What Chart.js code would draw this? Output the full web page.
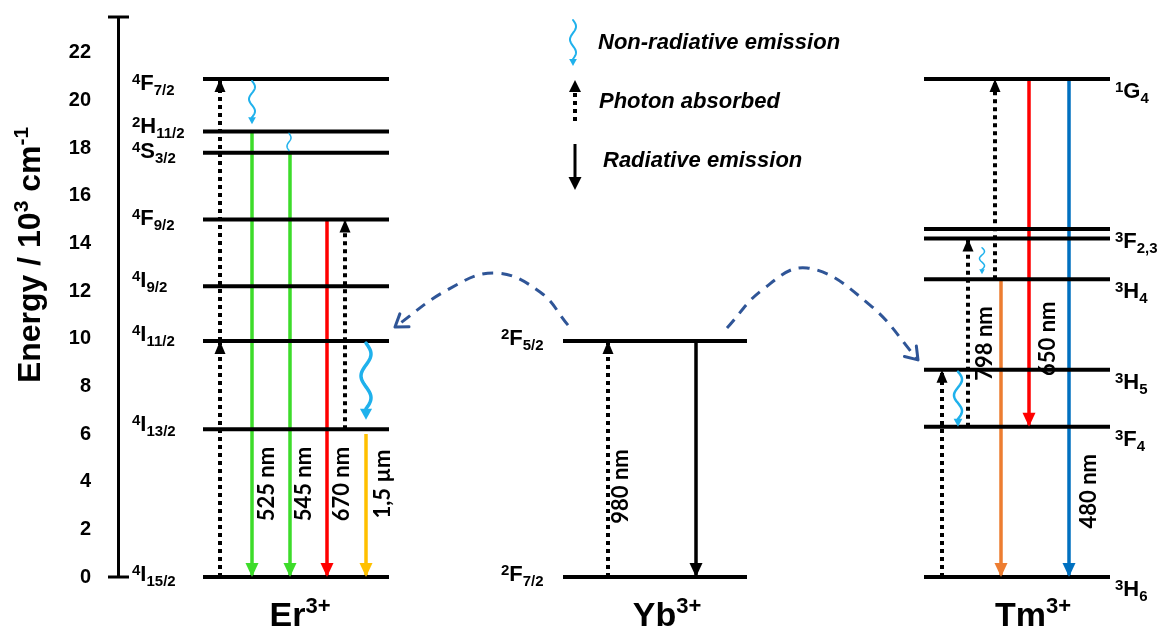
<!DOCTYPE html>
<html>
<head>
<meta charset="utf-8">
<script src="https://cdn.jsdelivr.net/npm/chart.js@4.4.1/dist/chart.umd.min.js"></script>
<style>
  html, body { margin: 0; padding: 0; background: #fff; }
  #wrap { width: 1164px; height: 627px; }
</style>
</head>
<body>
<div id="wrap"><canvas id="levelChart"></canvas></div>
<script>
// Energy levels, 10^3 cm^-1
const yTicks = [0, 2, 4, 6, 8, 10, 12, 14, 16, 18, 20, 22];
const ions = ['Er', 'Yb', 'Tm'];
const erLevels = ['4F7/2', '2H11/2', '4S3/2', '4F9/2', '4I9/2', '4I11/2', '4I13/2', '4I15/2'];
const erEnergy = [20.9, 18.7, 17.8, 15.0, 12.2, 9.9, 6.2, 0];
const ybLevels = ['2F5/2', '2F7/2'];
const ybEnergy = [9.9, 0];
const tmLevels = ['1G4', '3F2,3', '', '3H4', '3H5', '3F4', '3H6'];
const tmEnergy = [20.9, 14.6, 14.2, 12.5, 8.7, 6.3, 0];

// transitions [from, to]
const erAbsorbed = [[0, 9.9], [9.9, 20.9], [6.2, 15.0]];
const erEmitted = [[18.7, 0], [17.8, 0], [15.0, 0], [6.0, 0]];
const erEmittedLabels = ['525 nm', '545 nm', '670 nm', '1,5 µm'];
const erNonRad = [[20.9, 19.0], [18.7, 17.9], [9.9, 6.6]];
const ybAbsorbed = [[0, 9.9]];
const ybAbsorbedLabels = ['980 nm'];
const ybEmitted = [[9.9, 0]];
const tmAbsorbed = [[0, 8.7], [6.3, 14.2], [12.5, 20.9]];
const tmEmitted = [[12.5, 0], [20.9, 6.3], [20.9, 0]];
const tmEmittedLabels = ['798 nm', '650 nm', '480 nm'];
const tmNonRad = [[8.7, 6.3], [13.9, 12.7]];

// energy transfer Yb -> Er and Yb -> Tm (dashed curves)
const transferToEr = [10.57, 11.96, 12.76, 12.04, 10.49];
const transferToTm = [10.45, 12.04, 12.97, 11.41, 9.11];

// horizontal layout of the schematic (x axis runs in canvas pixels)
const layout = {
  erSpan: [203, 389], ybSpan: [563, 747], tmSpan: [924, 1110],
  erLabelX: 132, ybLabelX: 501, tmLabelX: 1115,
  erLabelDy: [3, -6, -3, -3, -7, -8, -6, -4], ybLabelDy: -4, tmLabelDy: 11,
  erAbsorbedX: [220, 220, 345], erEmittedX: [252, 290, 327, 366], erNonRadX: [252, 289, 366],
  erTextX: [267, 304, 342, 383], erTextY: [3.9, 3.9, 3.9, 3.9],
  ybAbsorbedX: [608], ybEmittedX: [696], ybTextX: [621], ybTextY: [3.8],
  tmAbsorbedX: [942, 968, 995], tmEmittedX: [1001, 1029, 1069], tmNonRadX: [958, 982],
  tmTextX: [985, 1048, 1089], tmTextY: [9.8, 10.0, 3.6],
  transferErX: [568, 540, 495, 447, 395], transferTmX: [727, 762, 807, 870, 918],
  speciesX: [300, 667, 1033]
};
const erColors = ['#3ddc2a', '#3ddc2a', '#ff0000', '#ffc000'];
const tmColors = ['#ed7d31', '#ff0000', '#0070c0'];
const waveBlue = '#1fb1ec';
const transferBlue = '#2f5597';
const erWaves = [[3, 1.5, 2, 7], [2, 1, 1.5, 0], [5, 1.5, 3.5, 11]];
const tmWaves = [[4, 1.5, 2.5, 8], [2.5, 1.5, 1.5, 5]];

const SANS = '"Liberation Sans", Arial, sans-serif';

function levelSets(energies, span) {
  return energies.map(e => ({
    data: [{ x: span[0], y: e }, { x: span[1], y: e }],
    borderColor: '#000', borderWidth: 4
  }));
}
function arrowSets(pairs, xs, colors, dotted) {
  return pairs.map((p, i) => ({
    data: [{ x: xs[i], y: p[0] }, { x: xs[i], y: p[1] }],
    borderColor: colors[i] || colors[0],
    borderWidth: dotted ? 4 : 3.5,
    borderDash: dotted ? [4, 4] : [],
    head: 'solid'
  }));
}
function curveSet(xs, ys) {
  return {
    data: xs.map((v, i) => ({ x: v, y: ys[i] })),
    borderColor: transferBlue, borderWidth: 3, borderDash: [11, 8],
    tension: 0.4, head: 'open'
  };
}

const datasets = [].concat(
  levelSets(erEnergy, layout.erSpan),
  levelSets(ybEnergy, layout.ybSpan),
  levelSets(tmEnergy, layout.tmSpan),
  arrowSets(erAbsorbed, layout.erAbsorbedX, ['#000'], true),
  arrowSets(erEmitted, layout.erEmittedX, erColors, false),
  arrowSets(ybAbsorbed, layout.ybAbsorbedX, ['#000'], true),
  arrowSets(ybEmitted, layout.ybEmittedX, ['#000'], false),
  arrowSets(tmAbsorbed, layout.tmAbsorbedX, ['#000'], true),
  arrowSets(tmEmitted, layout.tmEmittedX, tmColors, false),
  [curveSet(layout.transferErX, transferToEr), curveSet(layout.transferTmX, transferToTm)]
).map(d => Object.assign({ type: 'line', pointRadius: 0, fill: false, clip: false }, d));

function rich(ctx, runs, x, y, align) {
  let w = 0;
  runs.forEach(r => { ctx.font = r[1]; w += ctx.measureText(r[0]).width; });
  let cx = align === 'center' ? x - w / 2 : x;
  ctx.textAlign = 'left';
  ctx.textBaseline = 'alphabetic';
  runs.forEach(r => { ctx.font = r[1]; ctx.fillText(r[0], cx, y + r[2]); cx += ctx.measureText(r[0]).width; });
}
function levelLabel(ctx, name, x, yc) {
  if (!name) return;
  const big = 'bold 22px ' + SANS, small = 'bold 15px ' + SANS;
  rich(ctx, [[name[0], small, -6], [name[1], big, 0], [name.slice(2), small, 5]], x, yc + 8, 'left');
}
function head(ctx, tx, ty, ang, len, wid, color) {
  const bx = tx - Math.cos(ang) * len, by = ty - Math.sin(ang) * len;
  const nx = -Math.sin(ang) * wid / 2, ny = Math.cos(ang) * wid / 2;
  ctx.fillStyle = color;
  ctx.beginPath();
  ctx.moveTo(tx, ty); ctx.lineTo(bx + nx, by + ny); ctx.lineTo(bx - nx, by - ny);
  ctx.closePath(); ctx.fill();
}
function wave(ctx, x, y1, y2, amp, turns, lw, hl, color) {
  const yEnd = y2 - hl;
  ctx.strokeStyle = color; ctx.lineWidth = lw; ctx.setLineDash([]); ctx.lineCap = 'round';
  ctx.beginPath();
  for (let i = 0; i <= 40; i++) {
    const t = i / 40;
    const xx = x + amp * Math.sin(t * turns * 2 * Math.PI);
    const yy = y1 + (yEnd - y1) * t;
    if (i === 0) ctx.moveTo(xx, yy); else ctx.lineTo(xx, yy);
  }
  ctx.stroke();
  if (hl > 0) head(ctx, x, y2, Math.PI / 2, hl, hl * 1.1, color);
}

const diagramPlugin = {
  id: 'diagram',
  afterDatasetsDraw(chart) {
    const { ctx } = chart;
    const xs = chart.scales.x, ys = chart.scales.y;
    const px = v => xs.getPixelForValue(v);
    const py = v => ys.getPixelForValue(v);
    ctx.save();

    // arrow heads on transitions and transfer curves
    chart.data.datasets.forEach((ds, i) => {
      if (!ds.head) return;
      const pts = chart.getDatasetMeta(i).data;
      const tip = pts[pts.length - 1], prev = pts[pts.length - 2];
      const ang = Math.atan2(tip.y - prev.y, tip.x - prev.x);
      if (ds.head === 'open') {
        ctx.strokeStyle = ds.borderColor; ctx.lineWidth = 3; ctx.lineCap = 'round'; ctx.setLineDash([]);
        ctx.beginPath();
        [0.6, -0.6].forEach(a => {
          ctx.moveTo(tip.x, tip.y);
          ctx.lineTo(tip.x - Math.cos(ang + a) * 14, tip.y - Math.sin(ang + a) * 14);
        });
        ctx.stroke();
      } else {
        head(ctx, tip.x, tip.y, ang, ds.borderDash.length ? 13 : 14, ds.borderDash.length ? 11 : 13, ds.borderColor);
      }
    });

    // non-radiative (wavy) transitions
    erNonRad.forEach((p, i) => {
      const w = erWaves[i];
      wave(ctx, px(layout.erNonRadX[i]), py(p[0]) + 2, py(p[1]), w[0], w[1], w[2], w[3], waveBlue);
    });
    tmNonRad.forEach((p, i) => {
      const w = tmWaves[i];
      wave(ctx, px(layout.tmNonRadX[i]), py(p[0]) + 2, py(p[1]), w[0], w[1], w[2], w[3], waveBlue);
    });

    // level labels
    ctx.fillStyle = '#000';
    erLevels.forEach((n, i) => levelLabel(ctx, n, layout.erLabelX, py(erEnergy[i]) + layout.erLabelDy[i]));
    ybLevels.forEach((n, i) => levelLabel(ctx, n, layout.ybLabelX, py(ybEnergy[i]) + layout.ybLabelDy));
    tmLevels.forEach((n, i) => levelLabel(ctx, n, layout.tmLabelX, py(tmEnergy[i]) + layout.tmLabelDy));

    // wavelength labels (rotated)
    const vtext = (t, x, y) => {
      ctx.save();
      ctx.translate(x, y); ctx.rotate(-Math.PI / 2);
      ctx.font = 'bold 22px Lato, ' + SANS;
      ctx.textAlign = 'center'; ctx.textBaseline = 'middle'; ctx.fillStyle = '#000';
      ctx.fillText(t, 0, 0);
      ctx.restore();
    };
    erEmittedLabels.forEach((t, i) => vtext(t, px(layout.erTextX[i]), py(layout.erTextY[i])));
    ybAbsorbedLabels.forEach((t, i) => vtext(t, px(layout.ybTextX[i]), py(layout.ybTextY[i])));
    tmEmittedLabels.forEach((t, i) => vtext(t, px(layout.tmTextX[i]), py(layout.tmTextY[i])));

    // ion names
    ctx.fillStyle = '#000';
    ions.forEach((n, i) => rich(ctx, [[n, 'bold 34px ' + SANS, 0], ['3+', 'bold 22px ' + SANS, -13]],
      layout.speciesX[i], 626, 'center'));

    // axis title
    ctx.save();
    ctx.translate(29, 255); ctx.rotate(-Math.PI / 2);
    rich(ctx, [['Energy / 10', 'bold 32px ' + SANS, 0], ['3', 'bold 21px ' + SANS, -12],
      [' cm', 'bold 32px ' + SANS, 0], ['-1', 'bold 21px ' + SANS, -12]], 0, 11, 'center');
    ctx.restore();

    // axis end caps
    ctx.strokeStyle = '#000'; ctx.lineWidth = 3; ctx.setLineDash([]); ctx.lineCap = 'butt';
    ctx.beginPath();
    [ys.max, ys.min].forEach(v => { ctx.moveTo(108, py(v)); ctx.lineTo(129, py(v)); });
    ctx.stroke();

    // legend
    wave(ctx, 573, 20, 66, 3, 1.5, 2, 7, waveBlue);
    ctx.strokeStyle = '#000'; ctx.lineWidth = 4; ctx.setLineDash([4, 4]); ctx.lineCap = 'butt';
    ctx.beginPath(); ctx.moveTo(575, 121); ctx.lineTo(575, 90); ctx.stroke();
    ctx.setLineDash([]);
    head(ctx, 575, 80, -Math.PI / 2, 12, 12, '#000');
    ctx.lineWidth = 3;
    ctx.beginPath(); ctx.moveTo(575, 144); ctx.lineTo(575, 180); ctx.stroke();
    head(ctx, 575, 190, Math.PI / 2, 13, 13, '#000');
    ctx.font = 'italic bold 22px ' + SANS;
    ctx.textAlign = 'left'; ctx.textBaseline = 'middle'; ctx.fillStyle = '#000';
    ctx.fillText('Non-radiative emission', 598, 43);
    ctx.fillText('Photon absorbed', 599, 102);
    ctx.fillText('Radiative emission', 603, 161);
    ctx.restore();
  }
};

new Chart(document.getElementById('levelChart'), {
  type: 'line',
  data: { datasets: datasets },
  options: {
    responsive: true,
    maintainAspectRatio: false,
    animation: false,
    layout: { padding: { top: 17, bottom: 50, left: 0, right: 0 } },
    plugins: { legend: { display: false }, tooltip: { enabled: false } },
    scales: {
      x: { type: 'linear', display: false, min: 118, max: 1164 },
      y: {
        type: 'linear', min: 0, max: 23.5,
        afterBuildTicks: axis => { axis.ticks = yTicks.map(v => ({ value: v })); },
        afterFit: axis => { axis.width = 118; axis.paddingTop = 0; axis.paddingBottom = 0; },
        grid: { display: false, drawTicks: false },
        border: { display: true, color: '#000', width: 3 },
        ticks: { color: '#000', padding: 27, font: { family: SANS, size: 20, weight: 'bold' } }
      }
    }
  },
  plugins: [diagramPlugin]
});
</script>
</body>
</html>
